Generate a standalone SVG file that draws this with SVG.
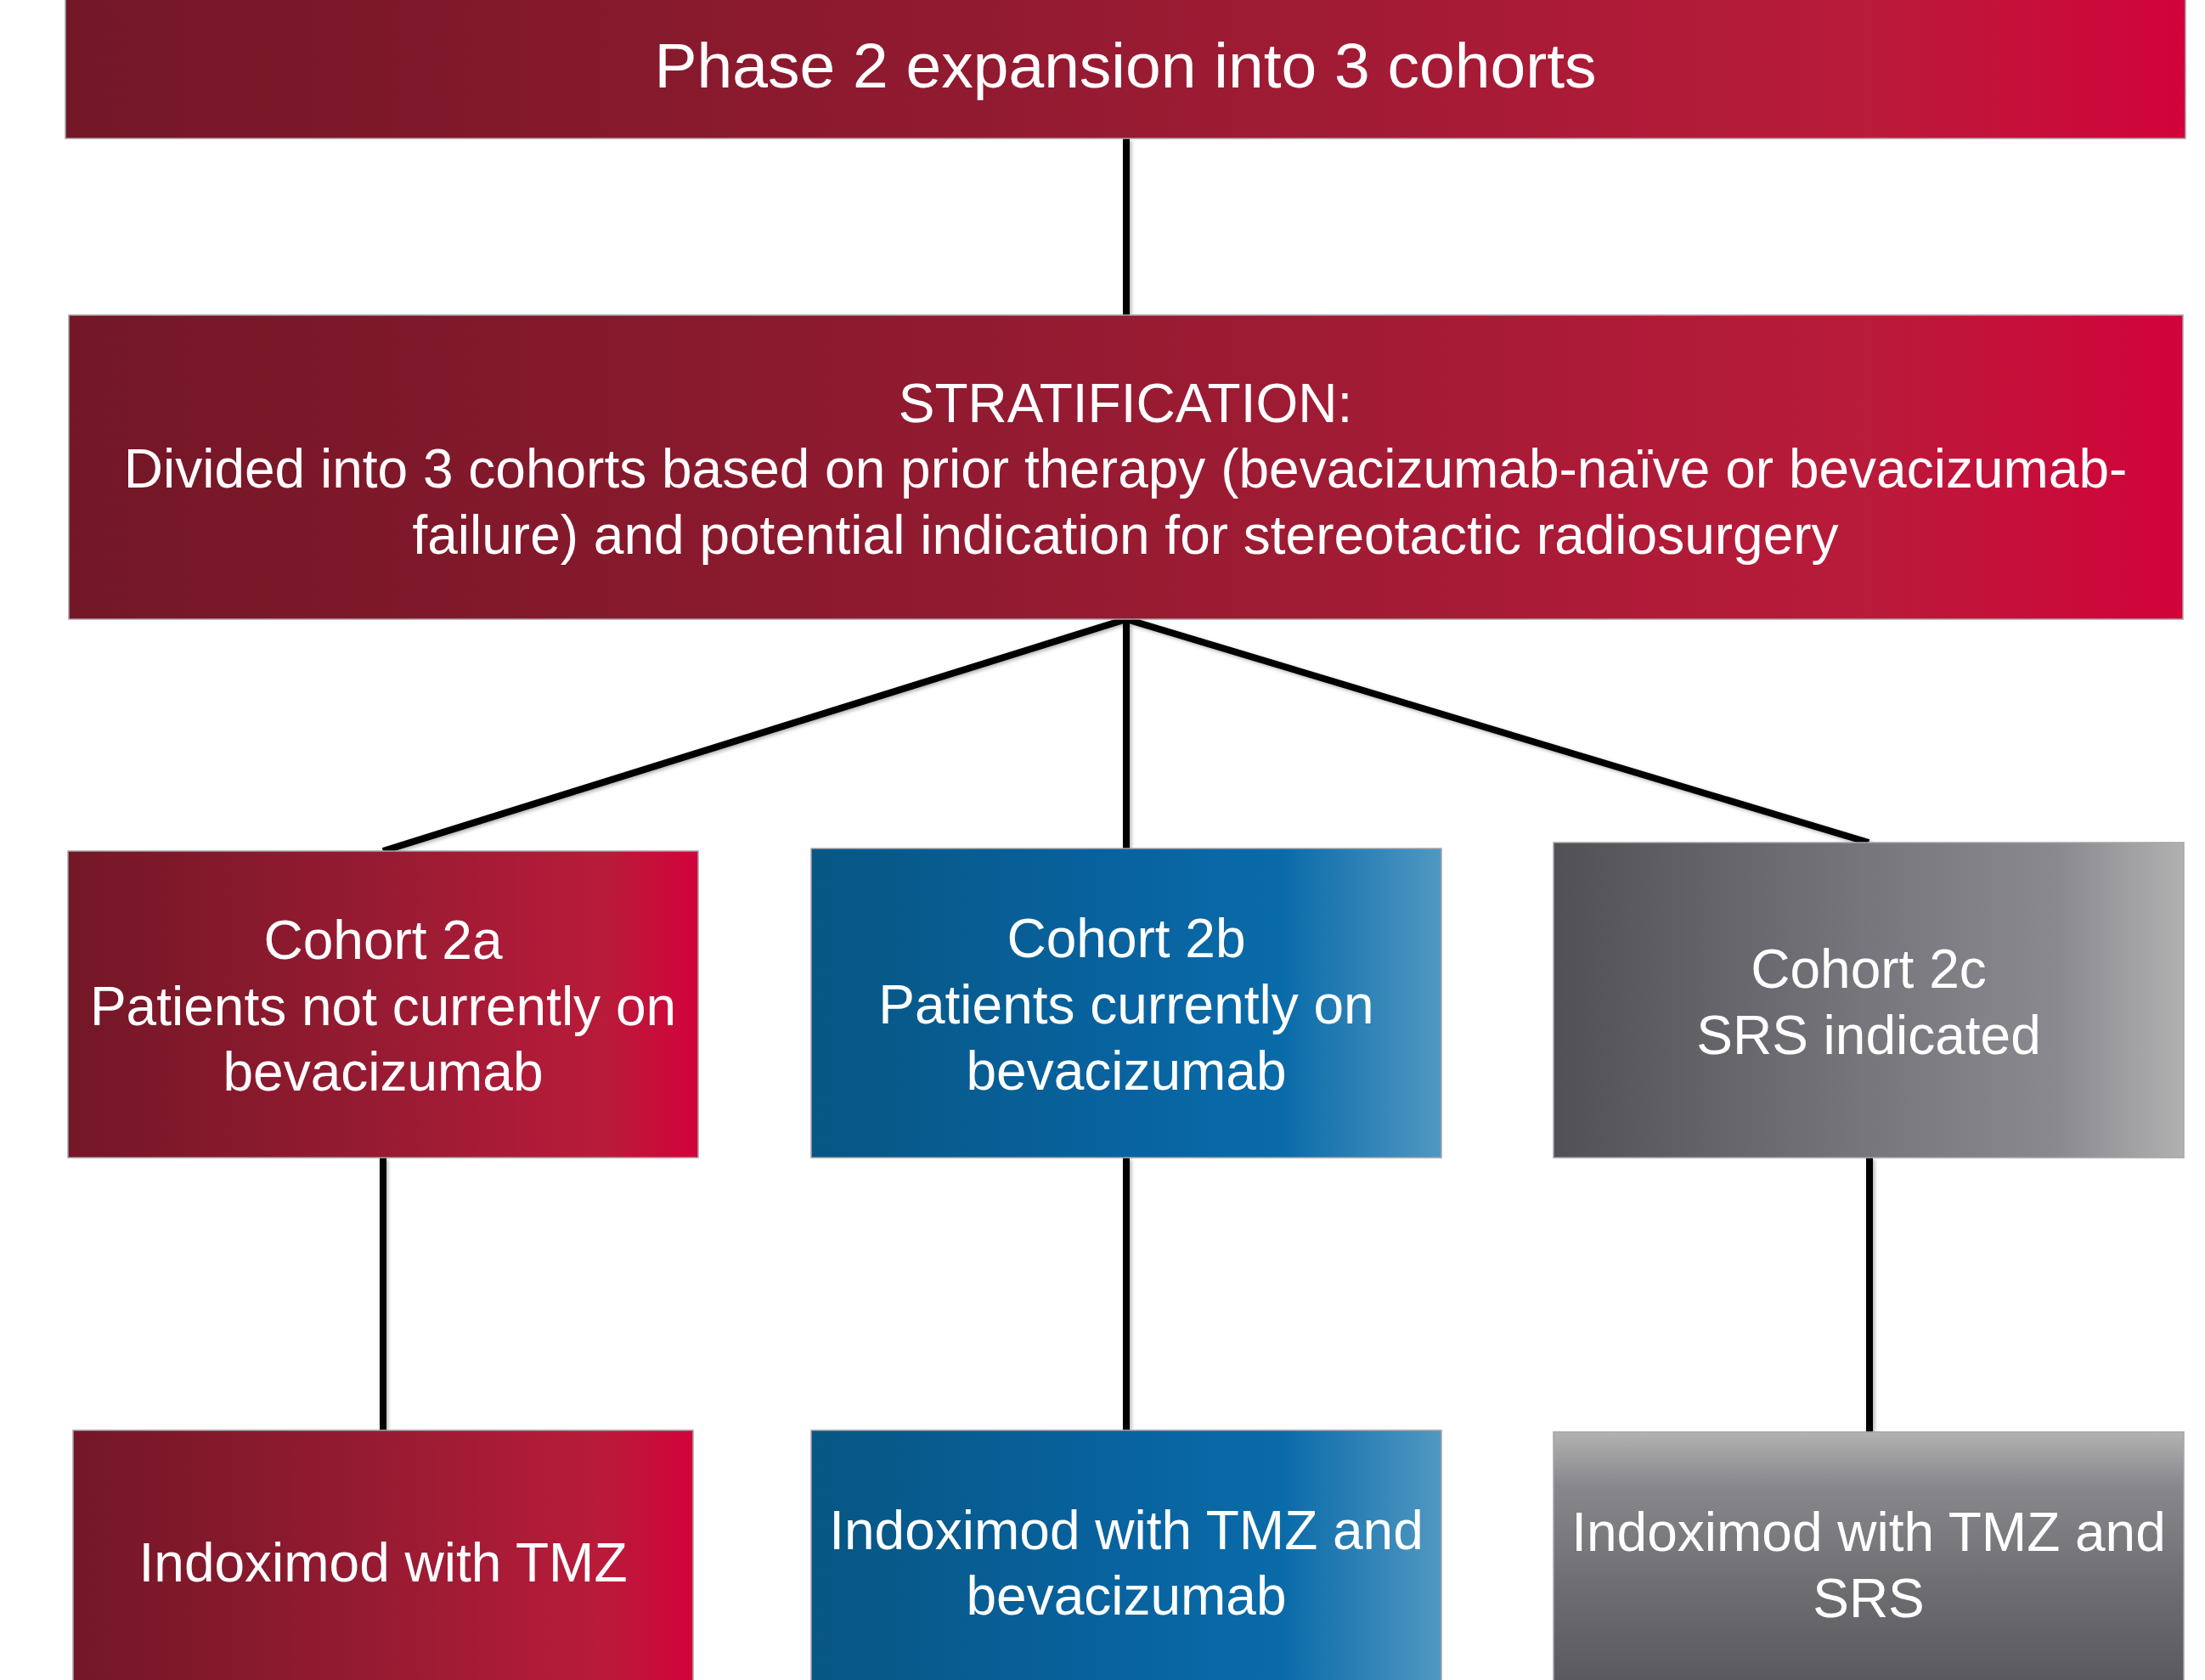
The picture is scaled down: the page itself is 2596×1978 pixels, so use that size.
<svg xmlns="http://www.w3.org/2000/svg" width="2596" height="1978" viewBox="0 0 2596 1978">
<defs>
<linearGradient id="gRed" x1="0" y1="0" x2="1" y2="0">
<stop offset="0" stop-color="#731726"/>
<stop offset="0.5" stop-color="#971b32"/>
<stop offset="0.85" stop-color="#b91b3a"/>
<stop offset="1" stop-color="#d2033a"/>
</linearGradient>
<linearGradient id="gBlue" x1="0" y1="0" x2="1" y2="0">
<stop offset="0" stop-color="#075683"/>
<stop offset="0.5" stop-color="#0863a0"/>
<stop offset="0.75" stop-color="#0a6ba9"/>
<stop offset="1" stop-color="#5098c2"/>
</linearGradient>
<linearGradient id="gGrayH" x1="0" y1="0" x2="1" y2="0">
<stop offset="0" stop-color="#505055"/>
<stop offset="0.5" stop-color="#77767c"/>
<stop offset="0.8" stop-color="#8a898f"/>
<stop offset="1" stop-color="#b1b1b1"/>
</linearGradient>
<linearGradient id="gGrayV" x1="0" y1="0" x2="0" y2="1">
<stop offset="0" stop-color="#b2b2b2"/>
<stop offset="0.2" stop-color="#88878c"/>
<stop offset="0.6" stop-color="#6c6b70"/>
<stop offset="1" stop-color="#56555a"/>
</linearGradient>
<filter id="sh" filterUnits="userSpaceOnUse" x="0" y="0" width="2596" height="1978">
<feDropShadow dx="2" dy="2" stdDeviation="2" flood-color="#000" flood-opacity="0.3"/>
</filter>
</defs>
<style>
.box { stroke: #a8a4a8; stroke-width: 1.5; }
.t { font-family: "Liberation Sans", Arial, sans-serif; fill: #ffffff; text-anchor: middle; font-size: 64px; }
.title { font-size: 75px; }
.conn { stroke: #000000; stroke-width: 8; fill: none; }
</style>
<rect width="2596" height="1978" fill="#ffffff"/>

<g id="connectors" filter="url(#sh)">
<line class="conn" x1="1326" y1="163" x2="1326" y2="371"/>
<line class="conn" x1="1326" y1="729" x2="451" y2="1002"/>
<line class="conn" x1="1326" y1="729" x2="1326" y2="999"/>
<line class="conn" x1="1326" y1="729" x2="2200" y2="992"/>
<line class="conn" x1="451" y1="1363" x2="451" y2="1684"/>
<line class="conn" x1="1326" y1="1363" x2="1326" y2="1684"/>
<line class="conn" x1="2201" y1="1363" x2="2201" y2="1686"/>
</g>

<g id="phase2">
<rect class="box" x="77" y="-5" width="2496" height="168" fill="url(#gRed)"/>
<text class="t title" x="1325" y="103">Phase 2 expansion into 3 cohorts</text>
</g>

<g id="stratification">
<rect class="box" x="81" y="371" width="2489" height="358" fill="url(#gRed)"/>
<text class="t" x="1325" y="497">STRATIFICATION:</text>
<text class="t" x="1325" y="574">Divided into 3 cohorts based on prior therapy (bevacizumab-naïve or bevacizumab-</text>
<text class="t" x="1325" y="652">failure) and potential indication for stereotactic radiosurgery</text>
</g>

<g id="cohort2a">
<rect class="box" x="80" y="1002" width="742" height="361" fill="url(#gRed)"/>
<text class="t" x="451" y="1129">Cohort 2a</text>
<text class="t" x="451" y="1207">Patients not currently on</text>
<text class="t" x="451" y="1284">bevacizumab</text>
</g>

<g id="cohort2b">
<rect class="box" x="955" y="999" width="742" height="364" fill="url(#gBlue)"/>
<text class="t" x="1326" y="1127">Cohort 2b</text>
<text class="t" x="1326" y="1205">Patients currently on</text>
<text class="t" x="1326" y="1283">bevacizumab</text>
</g>

<g id="cohort2c">
<rect class="box" x="1829" y="992" width="742" height="371" fill="url(#gGrayH)"/>
<text class="t" x="2200" y="1163">Cohort 2c</text>
<text class="t" x="2200" y="1241">SRS indicated</text>
</g>

<g id="treat2a">
<rect class="box" x="86" y="1684" width="730" height="320" fill="url(#gRed)"/>
<text class="t" x="451" y="1862">Indoximod with TMZ</text>
</g>

<g id="treat2b">
<rect class="box" x="955" y="1684" width="742" height="320" fill="url(#gBlue)"/>
<text class="t" x="1326" y="1824">Indoximod with TMZ and</text>
<text class="t" x="1326" y="1901">bevacizumab</text>
</g>

<g id="treat2c">
<rect class="box" x="1829" y="1686" width="742" height="318" fill="url(#gGrayV)"/>
<text class="t" x="2200" y="1826">Indoximod with TMZ and</text>
<text class="t" x="2200" y="1904">SRS</text>
</g>
</svg>
